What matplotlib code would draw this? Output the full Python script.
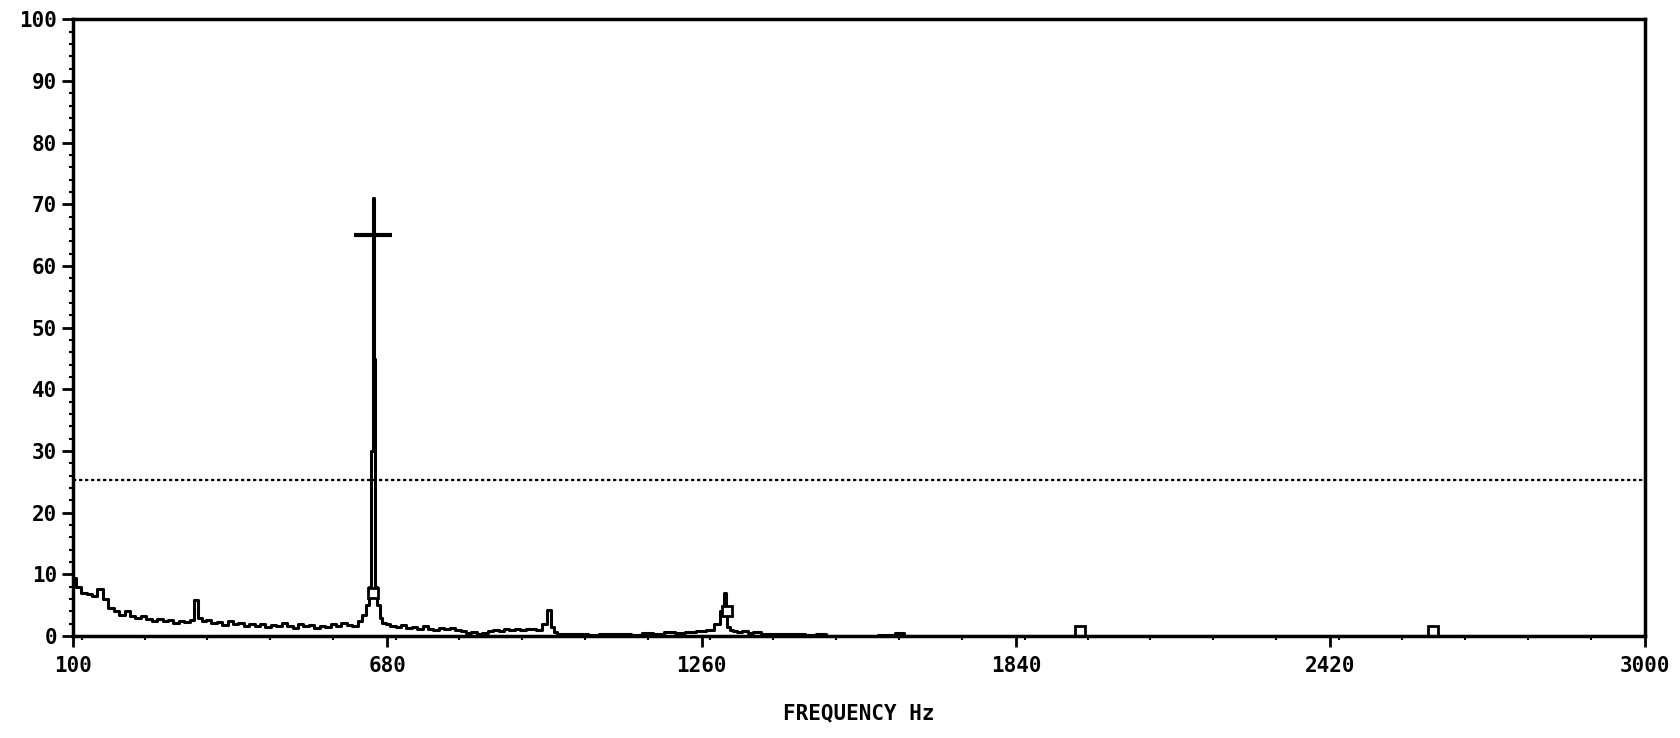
import numpy as np
import matplotlib.pyplot as plt
from matplotlib.ticker import MultipleLocator

plt.rcParams['font.family'] = 'DejaVu Sans Mono'
plt.rcParams['font.weight'] = 'bold'

# spectrum trace (Hz, amplitude)
freq = [100, 110, 120, 130, 140, 150, 160, 170, 180, 190,
        200, 210, 220, 230, 240, 250, 260, 270, 280, 290,
        300, 310, 320, 328, 334, 340, 350, 360, 370, 380,
        390, 400, 410, 420, 430, 440, 450, 460, 470, 480,
        490, 500, 510, 520, 530, 540, 550, 560, 570, 580,
        590, 600, 610, 620, 630, 638, 644, 648, 651, 654,
        656, 659, 663, 668, 673, 680, 690, 700, 710, 720,
        730, 740, 750, 760, 770, 780, 790, 800, 810, 820,
        830, 840, 850, 860, 870, 880, 890, 900, 910, 920,
        930, 940, 950, 960, 970, 978, 984, 989, 996, 1004,
        1020, 1040, 1060, 1080, 1100, 1120, 1140, 1160, 1180, 1200,
        1220, 1240, 1260, 1275, 1290, 1298, 1303, 1306, 1309, 1314,
        1320, 1330, 1340, 1350, 1360, 1380, 1400, 1420, 1440, 1460,
        1480, 1500, 1560, 1610, 1625, 1640, 1680, 1700, 1800, 1900,
        2000, 2200, 2400, 2600, 2800, 3000]
amp = [9.5, 8.0, 7.0, 6.8, 6.5, 7.6, 6.0, 4.5, 4.0, 3.5,
       4.0, 3.2, 3.0, 3.3, 2.8, 2.5, 2.8, 2.4, 2.6, 2.2,
       2.5, 2.3, 2.6, 5.8, 2.9, 2.4, 2.6, 2.1, 2.3, 1.8,
       2.4, 2.0, 2.2, 1.7, 1.9, 1.6, 2.0, 1.5, 1.8, 1.6,
       2.2, 1.7, 1.4, 1.9, 1.6, 1.8, 1.3, 1.7, 1.5, 1.9,
       1.6, 2.1, 1.8, 1.7, 2.5, 3.5, 5.0, 8.0, 30.0, 71.0,
       45.0, 8.0, 5.0, 3.0, 2.2, 2.0, 1.6, 1.5, 1.8, 1.3,
       1.5, 1.2, 1.6, 1.2, 1.0, 1.3, 1.1, 1.4, 1.0, 0.8,
       0.5, 0.6, 0.4, 0.5, 0.8, 1.0, 0.9, 1.2, 1.0, 1.1,
       1.0, 1.2, 1.1, 1.0, 2.0, 4.2, 1.5, 0.6, 0.4, 0.3,
       0.3, 0.4, 0.2, 0.3, 0.4, 0.3, 0.2, 0.5, 0.4, 0.6,
       0.5, 0.7, 0.8, 1.0, 2.0, 4.0, 7.0, 4.0, 1.5, 1.0,
       0.9, 0.7, 0.8, 0.5, 0.6, 0.4, 0.3, 0.4, 0.3, 0.2,
       0.3, 0.1, 0.1, 0.2, 0.5, 0.1, 0.1, 0.0, 0.0, 0.0,
       0.0, 0.0, 0.0, 0.0, 0.0, 0.0]

# harmonic markers
harm_f = [654, 1306, 1958, 2610]
harm_a = [7.0, 4.0, 0.8, 0.8]

peak_f = 654
peak_a = 65
threshold = 25.3

fig = plt.figure(figsize=(16.8, 7.38), dpi=100)
ax = fig.add_axes([0.0435, 0.138, 0.9355, 0.836])

ax.plot(freq, amp, color='black', lw=2.2, drawstyle='steps-mid')
ax.plot(harm_f, harm_a, ls='none', marker='s', ms=7, mfc='white',
        mec='black', mew=2)
ax.plot([peak_f], [peak_a], marker='_', ms=27, mew=3, color='black')
ax.axhline(threshold, color='black', ls=(0, (1.5, 1.2)), lw=1.6)

ax.set_xlim(100, 3000)
ax.set_ylim(0, 100)
ax.set_xticks([100, 680, 1260, 1840, 2420, 3000])
ax.set_yticks(range(0, 101, 10))
ax.xaxis.set_minor_locator(MultipleLocator(116))
ax.yaxis.set_minor_locator(MultipleLocator(2))
ax.tick_params(axis='both', which='major', direction='out', length=8,
               width=2, labelsize=15)
ax.tick_params(axis='both', which='minor', direction='out', length=3,
               width=1.5)
ax.tick_params(axis='x', pad=6)
for s in ax.spines.values():
    s.set_linewidth(2.5)

ax.set_xlabel('FREQUENCY Hz', fontsize=15, fontweight='bold', labelpad=20)

fig.savefig('out.png', dpi=100)
